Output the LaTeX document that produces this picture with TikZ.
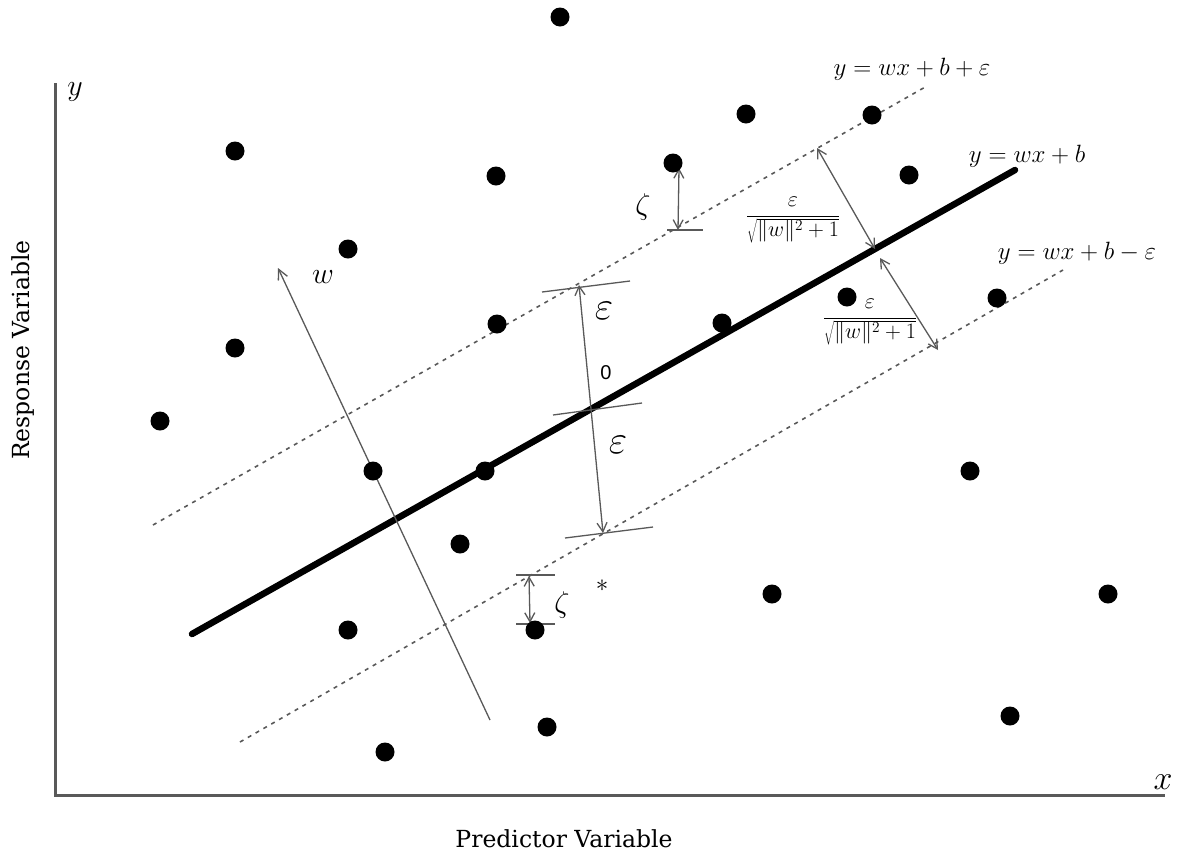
\RequirePackage{fix-cm}
\documentclass[tikz,border=0pt]{standalone}
\usepackage{fontspec}
\setmainfont{DejaVu Serif}
\setsansfont{Liberation Sans}
\usetikzlibrary{arrows.meta}
\begin{document}
\begin{tikzpicture}[x=1pt,y=-1pt,
  dot/.style={circle,fill=black,inner sep=0pt,minimum size=19pt},
  axisline/.style={line width=3pt,draw=black!65},
  fitline/.style={line width=6.5pt,draw=black,line cap=round},
  marginline/.style={line width=1.6pt,draw=black!65,dash pattern=on 4pt off 5pt},
  thinline/.style={line width=1.3pt,draw=black!65},
  dimarrow/.style={thinline,{Straight Barb[length=9pt,width=10pt]}-{Straight Barb[length=9pt,width=10pt]}},
  onearrow/.style={thinline,-{Straight Barb[length=10pt,width=10pt]}},
  mathlab/.style={inner sep=0pt,font=\fontsize{25}{29}\selectfont},
  fraclab/.style={inner sep=0pt,font=\fontsize{22}{26}\selectfont},
  axlab/.style={inner sep=0pt,font=\fontsize{23.5}{27}\selectfont},
]
\useasboundingbox (0,0) rectangle (1180,855);

% axes
\coordinate (O) at (55,795);
\coordinate (ytop) at (55,83);
\coordinate (xend) at (1165,795);
\draw[axisline] (ytop) -- (O) -- (xend);
\node[mathlab,font=\fontsize{30}{34}\selectfont] (ylab) at (75,92) {$y$};
\node[mathlab,font=\fontsize{34}{38}\selectfont] (xlab) at (1163,782) {$x$};
\node[axlab,rotate=90,anchor=base] (resp) at (29,350) {Response Variable};
\node[axlab,anchor=base] (pred) at (564,847) {Predictor Variable};

% lines
\coordinate (m1) at (192,634); \coordinate (m2) at (1015,170);
\coordinate (u1) at (153,525); \coordinate (u2) at (927,86);
\coordinate (l1) at (240,742); \coordinate (l2) at (1063,270);
\draw[marginline] (u1) -- (u2);
\draw[marginline] (l1) -- (l2);
\draw[fitline] (m1) -- (m2);

% labels of lines
\node[mathlab] (eqU) at (912,69) {$y=wx+b+\varepsilon$};
\node[mathlab] (eqM) at (1027,156) {$y=wx+b$};
\node[mathlab] (eqL) at (1077,253) {$y=wx+b-\varepsilon$};

% w arrow
\coordinate (w0) at (490,720); \coordinate (w1) at (278,268);
\draw[onearrow] (w0) -- (w1);
\node[mathlab,font=\fontsize{30}{34}\selectfont] (wlab) at (323,277) {$w$};

% epsilon dimension
\coordinate (eT) at (579,285); \coordinate (eB) at (603,533);
\draw[dimarrow] (eT) -- (eB);
\coordinate (tA1) at (542,292); \coordinate (tA2) at (630,281);
\coordinate (tB1) at (553,415); \coordinate (tB2) at (642,403);
\coordinate (tC1) at (565,538); \coordinate (tC2) at (653,527);
\draw[thinline] (tA1) -- (tA2);
\draw[thinline] (tB1) -- (tB2);
\draw[thinline] (tC1) -- (tC2);
\node[mathlab,font=\fontsize{40}{44}\selectfont] (eps1) at (604,311) {$\varepsilon$};
\node[mathlab,font=\fontsize{40}{44}\selectfont] (eps2) at (618,445) {$\varepsilon$};
\node[inner sep=0pt,font=\sffamily\fontsize{20}{23}\selectfont] (zero) at (606,373) {0};

% zeta top
\coordinate (z1) at (679,168); \coordinate (z2) at (678,230);
\draw[dimarrow] (z1) -- (z2);
\coordinate (zt1) at (667,230); \coordinate (zt2) at (703,230);
\draw[thinline] (zt1) -- (zt2);
\node[mathlab,font=\fontsize{30}{34}\selectfont] (zeta1) at (643,207) {$\zeta$};

% zeta bottom
\coordinate (s1) at (529,576); \coordinate (s2) at (530,623);
\draw[dimarrow] (s1) -- (s2);
\coordinate (st1) at (516,575); \coordinate (st2) at (555,575);
\coordinate (sb1) at (516,624); \coordinate (sb2) at (555,624);
\draw[thinline] (st1) -- (st2);
\draw[thinline] (sb1) -- (sb2);
\node[mathlab,font=\fontsize{30}{34}\selectfont] (zeta2) at (562,605) {$\zeta$};
\node[mathlab] (star) at (602,586) {$*$};

% perpendicular distances
\coordinate (p1) at (817,148); \coordinate (p2) at (875,249);
\coordinate (q1) at (880,258); \coordinate (q2) at (938,350);
\draw[dimarrow] (p1) -- (p2);
\draw[dimarrow] (q1) -- (q2);
\node[fraclab] (frac1) at (793,220) {$\displaystyle\frac{\varepsilon}{\sqrt{\|w\|^2+1}}$};
\node[fraclab] (frac2) at (870,322) {$\displaystyle\frac{\varepsilon}{\sqrt{\|w\|^2+1}}$};

% data points
\foreach \px/\py [count=\i] in {560/17, 235/151, 496/176, 673/163, 746/114, 872/115, 909/175,
  348/249, 235/348, 497/324, 722/323, 847/297, 997/298, 160/421, 373/471, 485/471, 970/471,
  460/544, 772/594, 1108/594, 348/630, 535/630, 1010/716, 547/727, 385/752}
  \node[dot] (d\i) at (\px,\py) {};
\end{tikzpicture}
\end{document}
